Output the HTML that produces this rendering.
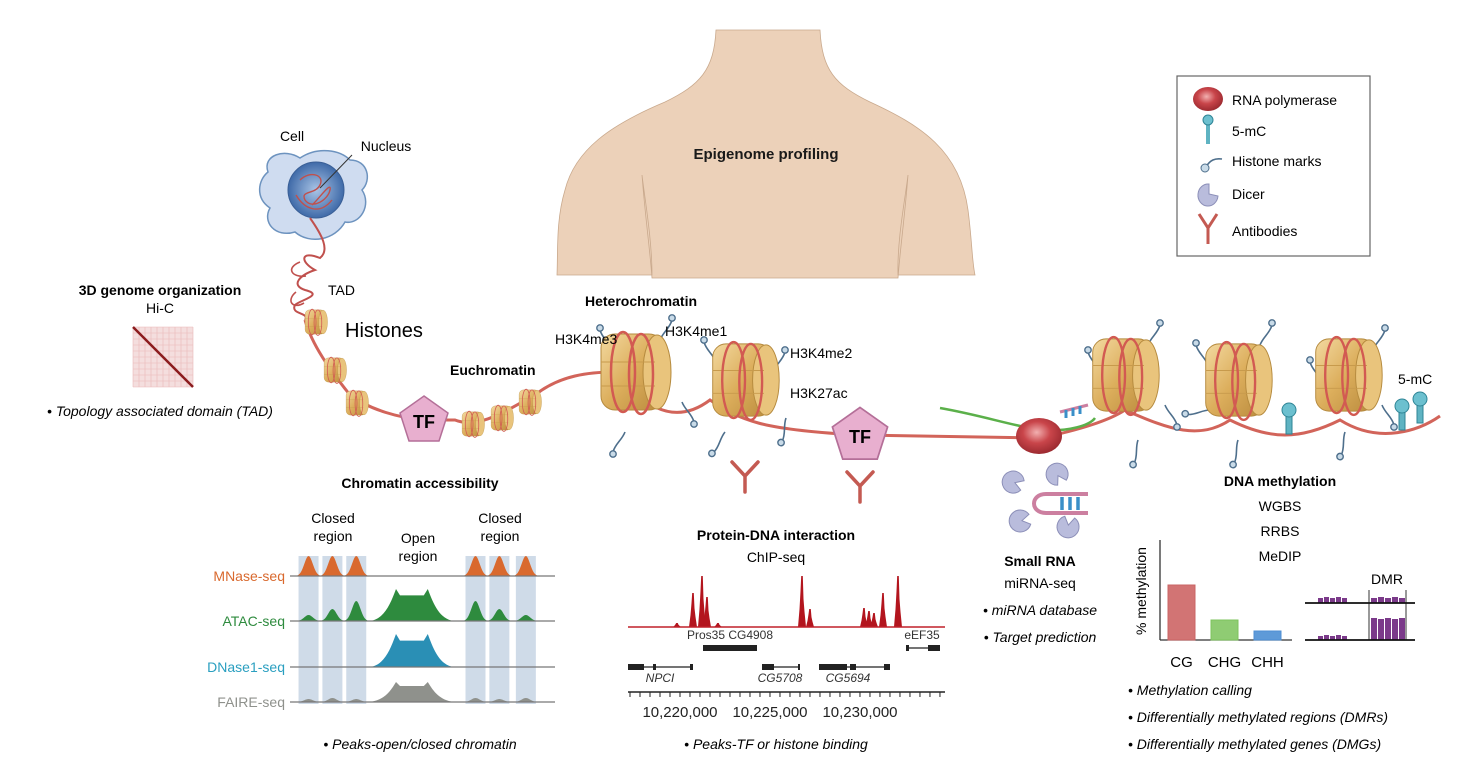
<!DOCTYPE html>
<html><head><meta charset="utf-8">
<style>
html,body{margin:0;padding:0;background:#fff;}
svg{display:block;font-family:"Liberation Sans",Arial,sans-serif;}
.b{font-weight:bold;}
.i{font-style:italic;}
</style></head>
<body>
<svg id="fig" width="1472" height="770" viewBox="0 0 1472 770">
<defs>
  <linearGradient id="gold" x1="0" y1="0" x2="1" y2="1">
    <stop offset="0" stop-color="#f3d9a0"/><stop offset="0.5" stop-color="#dcae5c"/><stop offset="1" stop-color="#b98a3c"/>
  </linearGradient>
  <radialGradient id="pol" cx="0.45" cy="0.4" r="0.6">
    <stop offset="0" stop-color="#f2b0b0"/><stop offset="0.5" stop-color="#c9454a"/><stop offset="1" stop-color="#9c2a30"/>
  </radialGradient>
  <radialGradient id="nuc" cx="0.5" cy="0.5" r="0.5">
    <stop offset="0" stop-color="#a9c4e6"/><stop offset="1" stop-color="#3f6aa8"/>
  </radialGradient>
  <g id="nucleo">
    <rect x="-34" y="-38" width="62" height="76" rx="14" fill="url(#gold)" stroke="#b58a3e" stroke-width="1"/>
    <ellipse cx="22" cy="0" rx="14" ry="37" fill="#e9c47c" stroke="#b58a3e"/>
    <line x1="-34" y1="-10" x2="20" y2="-10" stroke="#c79a4c" stroke-width="1"/>
    <line x1="-34" y1="14" x2="20" y2="14" stroke="#c79a4c" stroke-width="1"/>
    <ellipse cx="-12" cy="0" rx="12" ry="40" fill="none" stroke="#d25a52" stroke-width="2.5"/>
    <ellipse cx="6" cy="2" rx="12" ry="40" fill="none" stroke="#d25a52" stroke-width="2.5"/>
  </g>
  <g id="pin">
    <path d="M0,0 C-3,-8 -10,-12 -12,-20" fill="none" stroke="#4e6f8c" stroke-width="1.6"/>
    <circle cx="-12" cy="-22" r="3.2" fill="#c9dbe8" stroke="#4e6f8c" stroke-width="1.4"/>
  </g>
  <g id="mc">
    <rect x="-3" y="-20" width="6" height="22" fill="#5fb3c2" stroke="#2f8596"/>
    <circle cx="0" cy="-22" r="7" fill="#6cc0cf" stroke="#2f8596"/>
  </g>
  <g id="dicer">
    <path d="M0,0 m10,-5 A11,11 0 1 0 10,5 L2,0 Z" fill="#b9bcdc" stroke="#8c8fb8" stroke-width="1"/>
  </g>
  <g id="ab">
    <path d="M0,0 L0,-16 L-13,-30 M0,-16 L13,-30" fill="none" stroke="#c45a52" stroke-width="3.5" stroke-linecap="round"/>
  </g>
  <g id="tf">
    <polygon points="0,-24 24,-7 15,21 -15,21 -24,-7" fill="#e8afcf" stroke="#b46f98" stroke-width="1.5"/>
  </g>
</defs>

<!-- Torso -->
<path d="M716,30 L820,30 C822,70 835,85 870,102 C920,125 960,150 968,210 C972,240 972,262 975,275 L898,275 C897,240 905,200 908,175 C905,215 900,250 898,278 L652,278 C650,250 645,215 642,175 C645,200 652,240 652,275 L557,275 C558,250 556,220 565,190 C575,150 610,125 665,102 C700,85 714,70 716,30 Z" fill="#ecd1b9" stroke="#c9a98d" stroke-width="0.8"/>
<text x="766" y="159" text-anchor="middle" class="b" font-size="15" fill="#1a1a1a">Epigenome profiling</text>

<!-- Legend -->
<g>
  <rect x="1177" y="76" width="193" height="180" fill="#fff" stroke="#666" stroke-width="1.2"/>
  <g><ellipse cx="1208" cy="99" rx="15" ry="12" fill="url(#pol)"/><text x="1232" y="105" font-size="14">RNA polymerase</text></g>
  <g><rect x="1206" y="122" width="4" height="22" fill="#5fb3c2"/><circle cx="1208" cy="120" r="5" fill="#6cc0cf" stroke="#2f8596"/><text x="1232" y="136" font-size="14">5-mC</text></g>
  <g><path d="M1206,167 C1210,160 1215,158 1222,159" fill="none" stroke="#4e6f8c" stroke-width="1.6"/><circle cx="1205" cy="168" r="4" fill="#c9dbe8" stroke="#4e6f8c"/><text x="1232" y="166" font-size="14">Histone marks</text></g>
  <g><path d="M1209,184 A10,11 0 1 0 1218,196 L1209,194 Z" fill="#b9bcdc" stroke="#8c8fb8"/><text x="1232" y="199" font-size="14">Dicer</text></g>
  <g><path d="M1208,244 L1208,228 L1199,214 M1208,228 L1217,214" fill="none" stroke="#c45a52" stroke-width="3"/><text x="1232" y="236" font-size="14">Antibodies</text></g>
</g>

<!-- Cell -->
<g>
  <path d="M268,172 C262,155 285,148 300,158 C318,146 340,150 350,160 C368,160 372,180 362,190 C372,205 360,225 345,222 C335,240 310,245 295,232 C275,238 262,222 270,208 C255,198 258,180 268,172 Z" fill="#cfdcf0" stroke="#6d93bf" stroke-width="1.5"/>
  <circle cx="316" cy="190" r="28" fill="url(#nuc)" stroke="#3a5f96"/>
  <path d="M300,180 C310,170 325,175 320,185 C315,195 300,190 305,200 C312,210 328,200 330,190 C332,180 318,200 312,205 M296,195 C305,210 320,215 332,200" fill="none" stroke="#c0504d" stroke-width="1.4"/>
  <line x1="320" y1="188" x2="352" y2="155" stroke="#333" stroke-width="1"/>
  <text x="292" y="141" text-anchor="middle" font-size="14">Cell</text>
  <text x="386" y="151" text-anchor="middle" font-size="14">Nucleus</text>
</g>
<!-- TAD coil -->
<path d="M310,218 C322,235 330,250 320,258 C300,250 300,262 315,270 C300,275 290,285 305,290 C325,295 300,300 295,305 C290,315 310,312 305,320" fill="none" stroke="#c0504d" stroke-width="2"/>
<path d="M300,262 C285,268 292,278 306,276 M296,292 C286,300 292,310 304,303" fill="none" stroke="#c0504d" stroke-width="1.6"/>
<text x="328" y="295" font-size="14">TAD</text>
<text x="345" y="337" font-size="20">Histones</text>

<!-- Main chromatin fiber -->
<path d="M305,320 C312,345 330,370 350,395 C370,410 400,418 424,420 L455,420 C480,430 510,408 535,395 C560,375 590,372 615,372 C640,400 670,430 710,400 C740,420 760,430 860,435 L1040,438 C1080,430 1110,420 1125,410 C1170,430 1200,440 1230,420 C1270,440 1300,440 1340,420 C1380,445 1420,430 1440,416" fill="none" stroke="#d2645a" stroke-width="3"/>
<path d="M940,408 C980,415 1010,425 1040,430 C1070,432 1090,425 1095,418" fill="none" stroke="#5bb04a" stroke-width="2.5"/>

<!-- Small nucleosomes -->
<g>
  <use href="#nucleo" transform="translate(316,322) scale(0.32)"/>
  <use href="#nucleo" transform="translate(335,370) scale(0.32)"/>
  <use href="#nucleo" transform="translate(357,403) scale(0.32)"/>
  <use href="#nucleo" transform="translate(473,424) scale(0.32)"/>
  <use href="#nucleo" transform="translate(502,418) scale(0.32)"/>
  <use href="#nucleo" transform="translate(530,402) scale(0.32)"/>
</g>
<g><use href="#tf" transform="translate(424,420)"/><text x="424" y="428" text-anchor="middle" class="b" font-size="18">TF</text></g>
<text x="450" y="375" class="b" font-size="14">Euchromatin</text>
<text x="585" y="306" class="b" font-size="14">Heterochromatin</text>

<!-- Histone pins -->
<g>
  <use href="#pin" transform="translate(612,350)"/>
  <use href="#pin" transform="translate(660,340) scale(-1,1)"/>
  <use href="#pin" transform="translate(682,402) scale(-1,-1)"/>
  <use href="#pin" transform="translate(625,432) scale(-1,-1) rotate(180) scale(1,-1)"/>
  <use href="#pin" transform="translate(716,362)"/>
  <use href="#pin" transform="translate(773,372) scale(-1,1)"/>
  <use href="#pin" transform="translate(786,418) scale(-1,-1) rotate(40)"/>
  <use href="#pin" transform="translate(725,432) rotate(-120)"/>
  <use href="#pin" transform="translate(1100,372)"/>
  <use href="#pin" transform="translate(1148,345) scale(-1,1)"/>
  <use href="#pin" transform="translate(1165,405) scale(-1,-1)"/>
  <use href="#pin" transform="translate(1138,440) rotate(-140)"/>
  <use href="#pin" transform="translate(1208,365)"/>
  <use href="#pin" transform="translate(1260,345) scale(-1,1)"/>
  <use href="#pin" transform="translate(1210,410) rotate(-70)"/>
  <use href="#pin" transform="translate(1238,440) rotate(-140)"/>
  <use href="#pin" transform="translate(1322,382)"/>
  <use href="#pin" transform="translate(1373,350) scale(-1,1)"/>
  <use href="#pin" transform="translate(1382,405) scale(-1,-1)"/>
  <use href="#pin" transform="translate(1345,432) rotate(-140)"/>
</g>
<!-- Big nucleosomes -->
<g>
  <use href="#nucleo" transform="translate(635,372)"/>
  <use href="#nucleo" transform="translate(745,380) scale(0.95)"/>
  <use href="#nucleo" transform="translate(1125,375) scale(0.95)"/>
  <use href="#nucleo" transform="translate(1238,380) scale(0.95)"/>
  <use href="#nucleo" transform="translate(1348,375) scale(0.95)"/>
</g>
<text x="555" y="344" font-size="14">H3K4me3</text>
<text x="665" y="336" font-size="14">H3K4me1</text>
<text x="790" y="358" font-size="14">H3K4me2</text>
<text x="790" y="398" font-size="14">H3K27ac</text>
<text x="1398" y="384" font-size="14">5-mC</text>
<g>
  <use href="#mc" transform="translate(1289,432)"/>
  <use href="#mc" transform="translate(1402,428)"/>
  <use href="#mc" transform="translate(1420,425) translate(0,-4)"/>
</g>
<g><use href="#ab" transform="translate(745,492)"/></g>
<g><use href="#tf" transform="translate(860,435) scale(1.15)"/><text x="860" y="443" text-anchor="middle" class="b" font-size="18">TF</text></g>
<g><use href="#ab" transform="translate(860,502)"/></g>
<ellipse cx="1039" cy="436" rx="23" ry="18" fill="url(#pol)"/>
<g>
  <path d="M1060,412 L1088,405" stroke="#cc7fa0" stroke-width="3"/>
  <path d="M1066,410 v8 M1073,408 v8 M1080,406 v8" stroke="#3a8fc8" stroke-width="3"/>
</g>

<!-- 3D genome -->
<text x="160" y="295" text-anchor="middle" class="b" font-size="14">3D genome organization</text>
<text x="160" y="313" text-anchor="middle" font-size="14">Hi-C</text>
<g id="hic"></g>
<text x="160" y="416" text-anchor="middle" class="i" font-size="14">• Topology associated domain (TAD)</text>

<!-- Chromatin accessibility -->
<text x="420" y="488" text-anchor="middle" class="b" font-size="14">Chromatin accessibility</text>
<text x="333" y="523" text-anchor="middle" font-size="14">Closed</text>
<text x="333" y="541" text-anchor="middle" font-size="14">region</text>
<text x="418" y="543" text-anchor="middle" font-size="14">Open</text>
<text x="418" y="561" text-anchor="middle" font-size="14">region</text>
<text x="500" y="523" text-anchor="middle" font-size="14">Closed</text>
<text x="500" y="541" text-anchor="middle" font-size="14">region</text>
<g id="acc"></g>
<text x="420" y="749" text-anchor="middle" class="i" font-size="14">• Peaks-open/closed chromatin</text>

<!-- ChIP -->
<text x="776" y="540" text-anchor="middle" class="b" font-size="14">Protein-DNA interaction</text>
<text x="776" y="562" text-anchor="middle" font-size="14">ChIP-seq</text>
<g id="chip"></g>
<text x="776" y="749" text-anchor="middle" class="i" font-size="14">• Peaks-TF or histone binding</text>

<!-- Small RNA -->
<g>
  <use href="#dicer" transform="translate(1013,482) rotate(20)"/>
  <use href="#dicer" transform="translate(1057,474) rotate(60)"/>
  <use href="#dicer" transform="translate(1020,521) rotate(-10)"/>
  <use href="#dicer" transform="translate(1068,527) rotate(-80)"/>
</g>
<g>
  <path d="M1088,494 L1046,494 C1030,494 1030,513 1046,513 L1088,513" fill="none" stroke="#cc7fa0" stroke-width="4"/>
  <path d="M1062,497 v13 M1070,497 v13 M1078,497 v13" stroke="#3a8fc8" stroke-width="3.5"/>
</g>
<text x="1040" y="566" text-anchor="middle" class="b" font-size="14">Small RNA</text>
<text x="1040" y="588" text-anchor="middle" font-size="14">miRNA-seq</text>
<text x="1040" y="615" text-anchor="middle" class="i" font-size="14">• miRNA database</text>
<text x="1040" y="642" text-anchor="middle" class="i" font-size="14">• Target prediction</text>

<!-- DNA methylation -->
<text x="1280" y="486" text-anchor="middle" class="b" font-size="14">DNA methylation</text>
<text x="1280" y="511" text-anchor="middle" font-size="14">WGBS</text>
<text x="1280" y="536" text-anchor="middle" font-size="14">RRBS</text>
<text x="1280" y="561" text-anchor="middle" font-size="14">MeDIP</text>
<g id="meth"></g>
<text x="1146" y="591" text-anchor="middle" font-size="14" transform="rotate(-90 1146 591)">% methylation</text>
<g id="dmr"></g>
<text x="1387" y="584" text-anchor="middle" font-size="14">DMR</text>
<text x="1128" y="695" class="i" font-size="14">• Methylation calling</text>
<text x="1128" y="722" class="i" font-size="14">• Differentially methylated regions (DMRs)</text>
<text x="1128" y="749" class="i" font-size="14">• Differentially methylated genes (DMGs)</text>
</svg>

<script>
// ---------- Data ----------
const nucleosomePos = [7, 16, 25, 70, 79, 89];
const mnaseHeights = [20, 20, 20, 20, 20, 20];
const atacHeights = [6, 12, 20, 20, 12, 6];
const openCenters = [40, 52];
const atacOpen = [32, 32];
const dnaseOpen = [33, 33];
const faireOpen = [20, 20];
const faireSmall = [3, 4, 3, 4, 3, 4];
const trackNames = ["MNase-seq", "ATAC-seq", "DNase1-seq", "FAIRE-seq"];
const chipPos = [10219833, 10220722, 10221222, 10221500, 10222111, 10226778, 10227222, 10230222, 10230500, 10230778, 10231278, 10232111];
const chipHeight = [4, 34, 51, 30, 4, 51, 18, 19, 16, 14, 34, 51];
const genomicTicks = [10220000, 10225000, 10230000];
const genomicTickLabels = ["10,220,000", "10,225,000", "10,230,000"];
const methCategories = ["CG", "CHG", "CHH"];
const methValues = [55, 20, 9];
const dmrTopCtrl = [5, 6, 5, 6, 5];
const dmrTopDmr = [5, 6, 5, 6, 5];
const dmrBotCtrl = [4, 5, 4, 5, 4];
const dmrBotDmr = [22, 21, 22, 21, 22];

const NS = "http://www.w3.org/2000/svg";
function mk(tag, attrs, parent) {
  const e = document.createElementNS(NS, tag);
  for (const k in attrs) e.setAttribute(k, attrs[k]);
  parent.appendChild(e);
  return e;
}

// ---------- Hi-C ----------
(function () {
  const g = document.getElementById("hic");
  mk("rect", {x: 133, y: 327, width: 60, height: 60, fill: "#f4dede"}, g);
  for (let i = 0; i <= 60; i += 6) {
    mk("line", {x1: 133 + i, y1: 327, x2: 133 + i, y2: 387, stroke: "#eab8b8", "stroke-width": 0.6}, g);
    mk("line", {x1: 133, y1: 327 + i, x2: 193, y2: 327 + i, stroke: "#eab8b8", "stroke-width": 0.6}, g);
  }
  mk("line", {x1: 133, y1: 327, x2: 193, y2: 387, stroke: "#8c1c1e", "stroke-width": 2.5}, g);
})();

// ---------- Accessibility ----------
(function () {
  const g = document.getElementById("acc");
  const x0 = 290, x1 = 555;
  const xs = v => x0 + (x1 - x0) * v / 100;
  const baselines = [576, 621, 667, 702];
  const colors = ["#d9692e", "#2e8b3e", "#2a8fb5", "#8f918c"];
  const labelColors = ["#d9692e", "#2e8b3e", "#2a9fc0", "#8f918c"];
  nucleosomePos.forEach(p => {
    const b = mk("rect", {x: xs(p) - 10, y: 556, width: 20, height: 148, fill: "#cfdbe8"}, g);
    
  });
  function bump(cx, h, w) {
    let d = `M${cx - w},0`;
    for (let k = -w; k <= w; k += 1) {
      const y = -h * Math.exp(-(k * k) / (2 * (w / 2.6) * (w / 2.6)));
      d += ` L${cx + k},${y.toFixed(2)}`;
    }
    return d + ` L${cx + w},0 Z`;
  }
  function openShape(h) {
    const a = xs(openCenters[0]), b = xs(openCenters[1]);
    return `M${a - 26},0 C${a - 12},-2 ${a - 6},${-h * 0.5} ${a},${-h} L${a + 4},${-h * 0.8} L${b - 4},${-h * 0.8} L${b},${-h} C${b + 6},${-h * 0.5} ${b + 12},-2 ${b + 26},0 Z`;
  }
  trackNames.forEach((name, t) => {
    const base = baselines[t];
    const tg = mk("g", {transform: `translate(0,${base})`}, g);
    
    
    let heights = t === 0 ? mnaseHeights : t === 1 ? atacHeights : t === 3 ? faireSmall : null;
    if (heights) nucleosomePos.forEach((p, i) => {
      const pk = mk("path", {d: bump(xs(p), heights[i], 11), fill: colors[t]}, tg);
      
    });
    const open = t === 1 ? atacOpen[0] : t === 2 ? dnaseOpen[0] : t === 3 ? faireOpen[0] : 0;
    if (open) {
      const o = mk("path", {d: openShape(open), fill: colors[t]}, tg);
      
    }
    mk("line", {x1: x0, y1: 0, x2: x1, y2: 0, stroke: "#777", "stroke-width": 1.2}, tg);
    const lb = mk("text", {x: 285, y: 5, "text-anchor": "end", "font-size": 14, fill: labelColors[t]}, tg);
    lb.textContent = name;
    
  });
})();

// ---------- ChIP ----------
(function () {
  const g = document.getElementById("chip");
  const gx = v => 680 + (v - 10220000) / 5000 * 90;
  const base = 627;
  const peaksG = mk("g", {}, g);
  chipPos.forEach((p, i) => {
    const cx = gx(p), h = chipHeight[i];
    const pk = mk("path", {d: `M${cx - 4},${base} L${cx - 2.5},${base - h * 0.35} L${cx - 1.5},${base - h * 0.7} L${cx - 0.8},${base - h} L${cx + 0.8},${base - h} L${cx + 1.5},${base - h * 0.55} L${cx + 2.5},${base - h * 0.3} L${cx + 4},${base} Z`, fill: "#b3151e"}, peaksG);
    
  });
  mk("line", {x1: 628, y1: base, x2: 945, y2: base, stroke: "#c0202a", "stroke-width": 1.5}, g);
  const gene = (xa, xb, y, exons) => {
    mk("line", {x1: xa, y1: y, x2: xb, y2: y, stroke: "#222", "stroke-width": 1.2}, g);
    exons.forEach(e => mk("rect", {x: e[0], y: y - 3, width: e[1], height: 6, fill: "#222"}, g));
  };
  gene(703, 757, 648, [[703, 54]]);
  gene(906, 940, 648, [[906, 3], [928, 12]]);
  gene(628, 692, 667, [[628, 16], [653, 3], [690, 3]]);
  gene(762, 800, 667, [[762, 12], [798, 2]]);
  gene(819, 890, 667, [[819, 28], [850, 6], [884, 6]]);
  const lbl = (x, y, s, it) => { const t = mk("text", {x, y, "text-anchor": "middle", "font-size": 12, "font-style": it ? "italic" : "normal", fill: "#333"}, g); t.textContent = s; };
  lbl(730, 639, "Pros35 CG4908");
  lbl(922, 639, "eEF35");
  lbl(660, 682, "NPCI", 1);
  lbl(780, 682, "CG5708", 1);
  lbl(848, 682, "CG5694", 1);
  mk("line", {x1: 628, y1: 692, x2: 945, y2: 692, stroke: "#222", "stroke-width": 1.4}, g);
  for (let v = 10217222; v <= 10234800; v += 555.5) {
    const x = gx(v);
    if (x <= 945) mk("line", {x1: x, y1: 692, x2: x, y2: 697, stroke: "#222"}, g);
  }
  genomicTicks.forEach((v, i) => {
    const t = mk("text", {x: gx(v), y: 717, "text-anchor": "middle", "font-size": 15, fill: "#222"}, g);
    t.textContent = genomicTickLabels[i];
    
  });
})();

// ---------- Methylation bars ----------
(function () {
  const g = document.getElementById("meth");
  const y0 = 640, yTop = 540;
  const ys = v => y0 - (y0 - yTop) * v / 100;
  const colors = ["#c96464", "#7cc35c", "#4f8fd3"];
  const fills = ["#d27474", "#8fcc73", "#5e9ad8"];
  mk("line", {x1: 1160, y1: yTop, x2: 1160, y2: y0, stroke: "#333", "stroke-width": 1.3}, g);
  mk("line", {x1: 1160, y1: y0, x2: 1292, y2: y0, stroke: "#333", "stroke-width": 1.3}, g);
  methCategories.forEach((c, i) => {
    const x = 1168 + i * 43;
    const r = mk("rect", {x, y: ys(methValues[i]), width: 27, height: y0 - ys(methValues[i]), fill: fills[i], stroke: colors[i]}, g);
    
    const t = mk("text", {x: x + 13.5, y: 667, "text-anchor": "middle", "font-size": 15}, g);
    t.textContent = c;
    
  });
})();

// ---------- DMR ----------
(function () {
  const g = document.getElementById("dmr");
  const rows = [[603, dmrTopCtrl, dmrTopDmr], [640, dmrBotCtrl, dmrBotDmr]];
  mk("line", {x1: 1369, y1: 590, x2: 1369, y2: 640, stroke: "#777", "stroke-width": 1.5}, g);
  mk("line", {x1: 1406, y1: 590, x2: 1406, y2: 640, stroke: "#777", "stroke-width": 1.5}, g);
  rows.forEach(([y, ctrl, dmr]) => {
    ctrl.forEach((v, i) => {
      const r = mk("rect", {x: 1318 + i * 6, y: y - v, width: 5, height: v, fill: "#7b3a8a"}, g);
      
    });
    dmr.forEach((v, i) => {
      const r = mk("rect", {x: 1371 + i * 7, y: y - v, width: 6, height: v, fill: "#7b3a8a"}, g);
      
    });
    mk("line", {x1: 1305, y1: y, x2: 1415, y2: y, stroke: "#111", "stroke-width": 1.8}, g);
  });
})();
</script>
</body></html>
